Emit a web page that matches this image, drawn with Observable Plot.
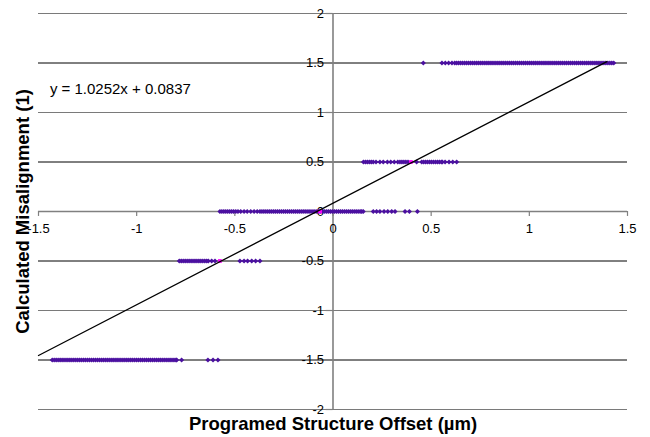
<!DOCTYPE html>
<html>
<head>
<meta charset="utf-8">
<script src="https://cdn.jsdelivr.net/npm/d3@7"></script>
<script src="https://cdn.jsdelivr.net/npm/@observablehq/plot@0.6"></script>
<style>
  html, body { margin: 0; padding: 0; background: #ffffff; }
  #chart { width: 650px; height: 437px; }
</style>
</head>
<body>
<div id="chart"></div>
<script>
// ---- Data ----
const xTicks = [-1.5, -1, -0.5, 0, 0.5, 1, 1.5];
const yTicks = [-2, -1.5, -1, -0.5, 0, 0.5, 1, 1.5, 2];
const xTickLabels = ["-1.5", "-1", "-0.5", "0", "0.5", "1", "1.5"];
const yTickLabels = ["-2", "-1.5", "-1", "-0.5", "0", "0.5", "1", "1.5", "2"];

// measured x offsets for each calculated misalignment level
const xAt1_5 = [0.46, 0.555, 0.572, 0.589, 0.606, 0.62,
  0.63, 0.64, 0.65, 0.66, 0.67, 0.68, 0.69, 0.70, 0.71, 0.72, 0.73, 0.74, 0.75, 0.76,
  0.77, 0.78, 0.79, 0.80, 0.81, 0.82, 0.83, 0.84, 0.85, 0.86, 0.87, 0.88, 0.89, 0.90,
  0.91, 0.92, 0.93, 0.94, 0.95, 0.96, 0.97, 0.98, 0.99, 1.00, 1.01, 1.02, 1.03, 1.04,
  1.05, 1.06, 1.07, 1.08, 1.09, 1.10, 1.11, 1.12, 1.13, 1.14, 1.15, 1.16, 1.17, 1.18,
  1.19, 1.20, 1.21, 1.22, 1.23, 1.24, 1.25, 1.26, 1.27, 1.28, 1.29, 1.30, 1.31, 1.32,
  1.33, 1.34, 1.35, 1.36, 1.37, 1.38, 1.39, 1.40, 1.41, 1.42, 1.43];
const xAt0_5 = [0.155, 0.165, 0.175, 0.185, 0.195, 0.205,
  0.219, 0.239, 0.256, 0.277, 0.294, 0.312, 0.330,
  0.341, 0.351, 0.361, 0.371, 0.382, 0.426,
  0.452, 0.462, 0.472, 0.482, 0.492, 0.502, 0.512, 0.522, 0.532, 0.542, 0.552, 0.557,
  0.571, 0.591, 0.610, 0.630];
const xAt0 = [-0.576, -0.566, -0.556, -0.546, -0.536, -0.526, -0.516, -0.506, -0.495, -0.484,
  -0.47, -0.453, -0.437, -0.419, -0.402, -0.386,
  -0.372, -0.362, -0.352, -0.342, -0.332, -0.322, -0.312, -0.302, -0.292, -0.282,
  -0.272, -0.262, -0.252, -0.242, -0.232, -0.222, -0.212, -0.202, -0.192, -0.182,
  -0.172, -0.162, -0.152, -0.142, -0.132, -0.122, -0.112, -0.102, -0.092, -0.082,
  -0.072, -0.062, -0.052, -0.042, -0.032, -0.022, -0.012, -0.002, 0.008, 0.018,
  0.028, 0.038, 0.048, 0.058, 0.068, 0.078, 0.088, 0.098, 0.108, 0.118, 0.128,
  0.138, 0.146, 0.154,
  0.205, 0.222, 0.239, 0.26, 0.279, 0.299, 0.316, 0.367, 0.389, 0.43];
const xAtM0_5 = [-0.783, -0.773, -0.763, -0.753, -0.743, -0.733, -0.723, -0.713, -0.703,
  -0.693, -0.683, -0.673, -0.663, -0.653, -0.643, -0.635, -0.618, -0.601,
  -0.474, -0.453, -0.435, -0.414, -0.394, -0.372];
const xAtM1_5 = [-1.43, -1.42, -1.41, -1.40, -1.39, -1.38, -1.37, -1.36, -1.35, -1.34,
  -1.33, -1.32, -1.31, -1.30, -1.29, -1.28, -1.27, -1.26, -1.25, -1.24, -1.23, -1.22,
  -1.21, -1.20, -1.19, -1.18, -1.17, -1.16, -1.15, -1.14, -1.13, -1.12, -1.11, -1.10,
  -1.09, -1.08, -1.07, -1.06, -1.05, -1.04, -1.03, -1.02, -1.01, -1.00, -0.99, -0.98,
  -0.97, -0.96, -0.95, -0.94, -0.93, -0.92, -0.91, -0.90, -0.89, -0.88, -0.87, -0.86,
  -0.85, -0.84, -0.83, -0.82, -0.81, -0.80, -0.796,
  -0.771, -0.637, -0.611, -0.586];
const levels = [1.5, 0.5, 0, -0.5, -1.5];
const levelXs = [xAt1_5, xAt0_5, xAt0, xAtM0_5, xAtM1_5];

// second (magenta) series
const avgX = [-0.576, -0.066, 0.397];
const avgY = [-0.5, 0, 0.5];

// linear trendline
const slope = 1.0252;
const intercept = 0.0837;
const trendX = [-1.5, 1.395];
const equation = "y = 1.0252x + 0.0837";
const xTitle = "Programed Structure Offset (µm)";
const yTitle = "Calculated Misalignment (1)";

// ---- Build tables ----
const points = levels.flatMap((lv, i) => levelXs[i].map(x => ({x, y: lv})));
const avgPoints = avgX.map((x, i) => ({x, y: avgY[i]}));
const trend = trendX.map(x => ({x, y: slope * x + intercept}));
const xTickData = xTicks.map((v, i) => ({v, label: xTickLabels[i]}));
const yTickData = yTicks.map((v, i) => ({v, label: yTickLabels[i]}));
const gridHalf = yTicks.filter(v => v !== 0 && Math.abs(v % 1) === 0.5);
const gridWhole = yTicks.filter(v => v !== 0 && v % 1 === 0);

const font = "'Liberation Sans', Arial, sans-serif";

const chart = Plot.plot({
  width: 650,
  height: 437,
  marginTop: 13,
  marginRight: 23,
  marginBottom: 28,
  marginLeft: 38,
  style: {fontFamily: font, fontSize: "13px", background: "#ffffff", color: "#000"},
  x: {domain: [-1.5, 1.5], axis: null},
  y: {domain: [-2, 2], axis: null},
  marks: [
    // gridlines
    Plot.ruleY(gridWhole, {stroke: "#7a7a7a", strokeWidth: 1}),
    Plot.ruleY(gridHalf, {stroke: "#000000", strokeWidth: 1}),
    // axes crossing at zero
    Plot.ruleY([0], {stroke: "#808080", strokeWidth: 1.3}),
    Plot.ruleX([0], {stroke: "#808080", strokeWidth: 1.6}),
    // tick marks
    Plot.ruleX(xTicks, {y1: 0, y2: -0.05, stroke: "#808080", strokeWidth: 1.2}),
    Plot.ruleY(yTicks, {x1: -0.035, x2: 0, stroke: "#808080", strokeWidth: 1.2}),
    // tick labels
    Plot.text(xTickData, {x: "v", y: () => 0, text: "label", dy: 17, fontSize: 13, fill: "#000"}),
    Plot.text(yTickData, {x: () => 0, y: "v", text: "label", dx: -9, textAnchor: "end", fontSize: 13, fill: "#000"}),
    // data
    Plot.dot(points, {x: "x", y: "y", symbol: "diamond2", r: 2.3, fill: "#4b10a0", stroke: "none"}),
    Plot.dot(avgPoints, {x: "x", y: "y", symbol: "square2", r: 2.4, fill: "#ff00ff", stroke: "none"}),
    // trendline
    Plot.line(trend, {x: "x", y: "y", stroke: "#000", strokeWidth: 1.3}),
    // equation label
    Plot.text([equation], {x: () => -1.442, y: () => 1.24, text: d => d, textAnchor: "start", fontSize: 15, fill: "#000"}),
    // axis titles
    Plot.text([xTitle], {frameAnchor: "bottom", dy: 15, lineAnchor: "middle", textAnchor: "middle", text: d => d, fontSize: 18.5, fontWeight: "bold", fill: "#000"}),
    Plot.text([yTitle], {frameAnchor: "left", dx: -15, rotate: -90, textAnchor: "middle", lineAnchor: "middle", text: d => d, fontSize: 18.5, fontWeight: "bold", fill: "#000"})
  ]
});
document.getElementById("chart").appendChild(chart);
</script>
</body>
</html>
